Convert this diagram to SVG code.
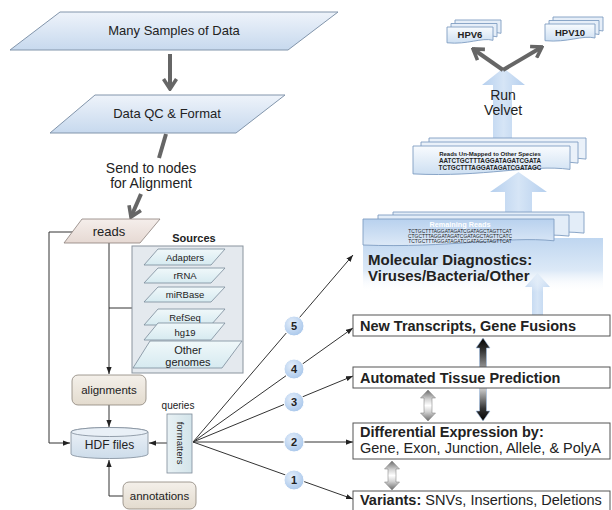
<svg xmlns="http://www.w3.org/2000/svg" width="612" height="510" viewBox="0 0 612 510">
<style>
.t{font-family:"Liberation Sans",Arial,Helvetica,sans-serif;fill:#222}
.b{font-weight:bold}
.ln{stroke:#333;stroke-width:1;fill:none}
.gl{stroke:#666;stroke-width:4;fill:none}
.box{fill:#fff;stroke:#555;stroke-width:1}
.src{fill:url(#gSrc);stroke:#7a8a99;stroke-width:0.8}
.sheet{stroke:#7f9dc2;stroke-width:0.9}
.circ{fill:url(#gCirc);stroke:#fff;stroke-width:1}
</style>
<defs>
<linearGradient id="gBlue" x1="0" y1="0" x2="0" y2="1"><stop offset="0" stop-color="#eef3fa"/><stop offset="1" stop-color="#c7d9ee"/></linearGradient>
<linearGradient id="gReads" x1="0" y1="0" x2="0" y2="1"><stop offset="0" stop-color="#f5eeeb"/><stop offset="1" stop-color="#e6d9d3"/></linearGradient>
<linearGradient id="gBeige" x1="0" y1="0" x2="0" y2="1"><stop offset="0" stop-color="#f4f0ea"/><stop offset="1" stop-color="#e3dbce"/></linearGradient>
<linearGradient id="gHDF" x1="0" y1="0" x2="0" y2="1"><stop offset="0" stop-color="#eef3f8"/><stop offset="1" stop-color="#cddcea"/></linearGradient>
<linearGradient id="gSrc" x1="0" y1="0" x2="0" y2="1"><stop offset="0" stop-color="#f0f8fa"/><stop offset="1" stop-color="#d6eaf0"/></linearGradient>
<linearGradient id="gFmt" x1="0" y1="0" x2="1" y2="0"><stop offset="0" stop-color="#e8f1f4"/><stop offset="1" stop-color="#d3e4ea"/></linearGradient>
<radialGradient id="gCirc" cx="0.4" cy="0.35" r="0.7"><stop offset="0" stop-color="#e4eefa"/><stop offset="1" stop-color="#a6c5ea"/></radialGradient>
<linearGradient id="gLB" x1="0" y1="0" x2="1" y2="0"><stop offset="0" stop-color="#b5cfee"/><stop offset="0.5" stop-color="#d6e5f6"/><stop offset="1" stop-color="#b5cfee"/></linearGradient>
<linearGradient id="gMol" x1="0" y1="0" x2="0" y2="1"><stop offset="0" stop-color="#bfd6f0"/><stop offset="0.6" stop-color="#dce9f7"/><stop offset="1" stop-color="#ffffff" stop-opacity="0"/></linearGradient>
<linearGradient id="gGray" x1="0" y1="0" x2="0" y2="1"><stop offset="0" stop-color="#6a6a6a"/><stop offset="0.3" stop-color="#d4d4d4"/><stop offset="0.5" stop-color="#ffffff"/><stop offset="0.7" stop-color="#d4d4d4"/><stop offset="1" stop-color="#6a6a6a"/></linearGradient>
<linearGradient id="gBlack" x1="0" y1="0" x2="0" y2="1"><stop offset="0" stop-color="#000"/><stop offset="0.15" stop-color="#333"/><stop offset="0.55" stop-color="#f2f2f2"/><stop offset="0.85" stop-color="#333"/><stop offset="1" stop-color="#000"/></linearGradient>
<linearGradient id="gSheetA" x1="0" y1="0" x2="0" y2="1"><stop offset="0" stop-color="#b8d1ee"/><stop offset="1" stop-color="#dde9f7"/></linearGradient>
<linearGradient id="gSheetB" x1="0" y1="0" x2="0" y2="1"><stop offset="0" stop-color="#f8fbfe"/><stop offset="1" stop-color="#cddff2"/></linearGradient>
<marker id="ah" viewBox="0 0 8 6" refX="8" refY="3" markerWidth="7" markerHeight="5.5" markerUnits="userSpaceOnUse" orient="auto"><path d="M0,0 L8,3 L0,6 z" fill="#222"/></marker>
<marker id="chev" viewBox="0 0 14 16" refX="12" refY="8" markerWidth="14" markerHeight="16" markerUnits="userSpaceOnUse" orient="auto"><path d="M2,1.5 L12,8 L2,14.5" fill="none" stroke="#666" stroke-width="3.6"/></marker>
</defs>

<g id="connectors">
<line class="gl" x1="170" y1="54" x2="170" y2="89" marker-end="url(#chev)"/>
<line class="gl" x1="166" y1="134" x2="159" y2="158"/>
<line class="gl" x1="141" y1="194" x2="131" y2="217" marker-end="url(#chev)"/>
<path class="ln" d="M73,232 H49 V443 H70" marker-end="url(#ah)"/>
<path class="ln" d="M109,243 V374" marker-end="url(#ah)"/>
<path class="ln" d="M109,308 H132"/>
<path class="ln" d="M109,405 V427" marker-end="url(#ah)"/>
<path class="ln" d="M167,443 H149" marker-end="url(#ah)"/>
<path class="ln" d="M123,496 H109 V460" marker-end="url(#ah)"/>
<line class="ln" x1="193" y1="442" x2="353" y2="255" marker-end="url(#ah)"/>
<line class="ln" x1="193" y1="442" x2="353" y2="328" marker-end="url(#ah)"/>
<line class="ln" x1="193" y1="442" x2="353" y2="376" marker-end="url(#ah)"/>
<line class="ln" x1="193" y1="442" x2="353" y2="442" marker-end="url(#ah)"/>
<line class="ln" x1="193" y1="442" x2="353" y2="499" marker-end="url(#ah)"/>
<polygon points="532,315 532,287 525,287 537.5,273 550,287 543,287 543,315" fill="url(#gLB)"/>
<polygon points="428,390 435.5,398 432,398 432,413 435.5,413 428,421 420.5,413 424,413 424,398 420.5,398" fill="url(#gGray)" stroke="#777" stroke-width="0.5"/>
<polygon points="392,461 399.5,469 396,469 396,482 399.5,482 392,490 384.5,482 388,482 388,469 384.5,469" fill="url(#gGray)" stroke="#777" stroke-width="0.5"/>
<polygon points="483,338 490,348 486.5,348 486.5,411 490,411 483,421 476,411 479.5,411 479.5,348 476,348" fill="url(#gBlack)" stroke="#9fbde3" stroke-width="0.6"/>
</g>

<g id="many-samples">
<polygon points="60,12 338,12 288,50 10,50" fill="url(#gBlue)" stroke="#8295ab" stroke-width="1"/>
<text class="t" x="174" y="35" font-size="13" text-anchor="middle">Many Samples of Data</text>
</g>
<g id="data-qc">
<polygon points="95,95 285,95 236,133 50,133" fill="url(#gBlue)" stroke="#8295ab" stroke-width="1"/>
<text class="t" x="167" y="118" font-size="13" text-anchor="middle">Data QC &amp; Format</text>
</g>
<g id="send-label">
<text class="t" x="151" y="173" font-size="14" text-anchor="middle">Send to nodes</text>
<text class="t" x="151" y="188" font-size="14" text-anchor="middle">for Alignment</text>
</g>
<g id="reads">
<polygon points="82,219 160,219 140,243 64,243" fill="url(#gReads)" stroke="#8a7f7a" stroke-width="0.8"/>
<text class="t" x="109" y="236" font-size="13" text-anchor="middle">reads</text>
</g>
<g id="sources">
<text class="t b" x="194" y="242" font-size="11" text-anchor="middle">Sources</text>
<rect x="132" y="246" width="111" height="127" fill="#e4e9ee" stroke="#8a949e" stroke-width="1"/>
<polygon class="src" points="158,249 225,249 211,265 144,265"/>
<text class="t" x="185" y="261" font-size="9.5" text-anchor="middle">Adapters</text>
<polygon class="src" points="158,268 225,268 211,283 144,283"/>
<text class="t" x="185" y="279" font-size="9.5" text-anchor="middle">rRNA</text>
<polygon class="src" points="158,287 225,287 211,302 144,302"/>
<text class="t" x="185" y="298" font-size="9.5" text-anchor="middle">miRBase</text>
<polygon class="src" points="158,309 225,309 211,325 144,325"/>
<text class="t" x="185" y="321" font-size="9.5" text-anchor="middle">RefSeq</text>
<polygon class="src" points="158,323 225,323 211,340 144,340"/>
<text class="t" x="185" y="336" font-size="9.5" text-anchor="middle">hg19</text>
<polygon class="src" points="150,341 242,341 222,368 133,368"/>
<text class="t" x="188" y="354" font-size="11" text-anchor="middle">Other</text>
<text class="t" x="188" y="366" font-size="11" text-anchor="middle">genomes</text>
</g>
<g id="alignments">
<rect x="72" y="375" width="74" height="30" rx="6" fill="url(#gBeige)" stroke="#8a8378" stroke-width="0.8"/>
<text class="t" x="109" y="394" font-size="11.5" text-anchor="middle">alignments</text>
</g>
<g id="hdf-files">
<path d="M71,432 V454 A38.5,4.5 0 0 0 148,454 V432 A38.5,4.5 0 0 0 71,432 Z" fill="url(#gHDF)" stroke="#7d8a98" stroke-width="0.8"/>
<ellipse cx="109.5" cy="432" rx="38.5" ry="4.5" fill="#e9f0f7" stroke="#7d8a98" stroke-width="0.8"/>
<text class="t" x="109.5" y="449" font-size="12" text-anchor="middle">HDF files</text>
</g>
<g id="formatters">
<text class="t" x="178" y="409" font-size="10" text-anchor="middle">queries</text>
<rect x="167" y="414" width="25" height="59" fill="url(#gFmt)" stroke="#7d8a98" stroke-width="0.8"/>
<text class="t" font-size="9.5" text-anchor="middle" transform="translate(176.5,443) rotate(90)">formatters</text>
</g>
<g id="annotations">
<rect x="123" y="482" width="73" height="27" rx="6" fill="url(#gBeige)" stroke="#8a8378" stroke-width="0.8"/>
<text class="t" x="159.5" y="500" font-size="11.5" text-anchor="middle">annotations</text>
</g>

<g id="circles">
<circle class="circ" cx="294" cy="326" r="10"/><text class="t b" x="294" y="330" font-size="11" text-anchor="middle">5</text>
<circle class="circ" cx="294" cy="369" r="10"/><text class="t b" x="294" y="373" font-size="11" text-anchor="middle">4</text>
<circle class="circ" cx="294" cy="402" r="10"/><text class="t b" x="294" y="406" font-size="11" text-anchor="middle">3</text>
<circle class="circ" cx="294" cy="442" r="10"/><text class="t b" x="294" y="446" font-size="11" text-anchor="middle">2</text>
<circle class="circ" cx="294" cy="480" r="10"/><text class="t b" x="294" y="484" font-size="11" text-anchor="middle">1</text>
</g>

<g id="new-transcripts">
<rect class="box" x="353" y="315" width="257" height="21"/>
<text class="t b" x="360" y="330.5" font-size="14.5">New Transcripts, Gene Fusions</text>
</g>
<g id="tissue-prediction">
<rect class="box" x="353" y="367" width="257" height="21"/>
<text class="t b" x="360" y="382.5" font-size="14.5">Automated Tissue Prediction</text>
</g>
<g id="differential-expression">
<rect class="box" x="353" y="423" width="257" height="36"/>
<text class="t b" x="360" y="437" font-size="14.5">Differential Expression by:</text>
<text class="t" x="360" y="453" font-size="14.5">Gene, Exon, Junction, Allele, &amp; PolyA</text>
</g>
<g id="variants">
<rect class="box" x="353" y="491" width="257" height="25"/>
<text class="t" x="360" y="505" font-size="14.5"><tspan class="b">Variants:</tspan> SNVs, Insertions, Deletions</text>
</g>

<g id="molecular-diagnostics">
<rect x="363" y="238" width="240" height="54" fill="url(#gMol)"/>
<polygon points="505,214 505,192 490,192 518.5,172 547,192 532,192 532,214" fill="url(#gLB)"/>
<path class="sheet" d="M393,212 H584 V233.1 C536.3,228.2 479,240.4 393,237.1 Z" fill="#e3edf8"/>
<path class="sheet" d="M378,215 H569 V236.1 C521.3,231.2 464,243.4 378,240.1 Z" fill="#e3edf8"/>
<path class="sheet" d="M363,219 H554 V240.8 C506.3,235.8 449,248.4 363,245 Z" fill="url(#gSheetA)"/>
<text class="t b" x="460" y="227" font-size="7.3" text-anchor="middle" fill="#ffffff" style="fill:#fff">Remaining Reads</text>
<text class="t" x="460" y="232.5" font-size="4.9" text-anchor="middle">TCTGCTTTAGGATAGATCGATAGCTAGTTCAT</text>
<text class="t" x="460" y="237.5" font-size="4.9" text-anchor="middle">CTGCTTTAGGATAGATCGATAGCTAGTTCATC</text>
<text class="t" x="460" y="242.5" font-size="4.9" text-anchor="middle">TCTGCTTTAGGATAGATCGATAGCTAGTTCAT</text>
<text class="t b" x="368" y="265" font-size="15">Molecular Diagnostics:</text>
<text class="t b" x="368" y="281" font-size="15">Viruses/Bacteria/Other</text>
</g>

<g id="run-velvet">
<polygon points="493,138 493,85 482,85 503.5,68 525,85 512,85 512,138" fill="url(#gLB)"/>
<text class="t" x="503" y="100" font-size="14" text-anchor="middle">Run</text>
<text class="t" x="503" y="115" font-size="14" text-anchor="middle">Velvet</text>
</g>

<g id="unmapped-reads">
<path class="sheet" d="M429,138 H586 V159.1 C546.8,154.2 499.7,166.4 429,163.1 Z" fill="#eaf1f9"/>
<path class="sheet" d="M421,142 H578 V163.1 C538.8,158.2 491.7,170.4 421,167.1 Z" fill="#eaf1f9"/>
<path class="sheet" d="M413,146 H570 V169.4 C530.8,164 483.7,177.5 413,173.9 Z" fill="url(#gSheetB)"/>
<text class="t b" x="490" y="156" font-size="6" text-anchor="middle">Reads Un-Mapped to Other Species</text>
<text class="t b" x="490" y="163" font-size="6.3" text-anchor="middle">AATCTGCTTTAGGATAGATCGATA</text>
<text class="t b" x="490" y="169.5" font-size="6.3" text-anchor="middle">TCTGCTTTAGGATAGATCGATAGC</text>
</g>

<g id="velvet-arrows">
<line class="gl" x1="503" y1="70" x2="473" y2="49" marker-end="url(#chev)"/>
<line class="gl" x1="503" y1="70" x2="542" y2="47" marker-end="url(#chev)"/>
</g>

<g id="hpv6">
<path class="sheet" d="M455,20 H501 V33.3 C489.5,30.2 475.7,37.9 455,35.8 Z" fill="#e6eef8"/>
<path class="sheet" d="M451,23.5 H497 V36.8 C485.5,33.7 471.7,41.4 451,39.3 Z" fill="#e6eef8"/>
<path class="sheet" d="M447,27 H493 V40.3 C481.5,37.2 467.7,44.9 447,42.8 Z" fill="url(#gSheetB)"/>
<text class="t b" x="470" y="38" font-size="9.5" text-anchor="middle">HPV6</text>
</g>
<g id="hpv10">
<path class="sheet" d="M553,17 H603 V31 C590.5,27.8 575.5,35.9 553,33.7 Z" fill="#e6eef8"/>
<path class="sheet" d="M549,20.5 H599 V34.5 C586.5,31.3 571.5,39.4 549,37.2 Z" fill="#e6eef8"/>
<path class="sheet" d="M545,24 H595 V38 C582.5,34.8 567.5,42.9 545,40.7 Z" fill="url(#gSheetB)"/>
<text class="t b" x="570" y="35.5" font-size="9.5" text-anchor="middle">HPV10</text>
</g>
</svg>
